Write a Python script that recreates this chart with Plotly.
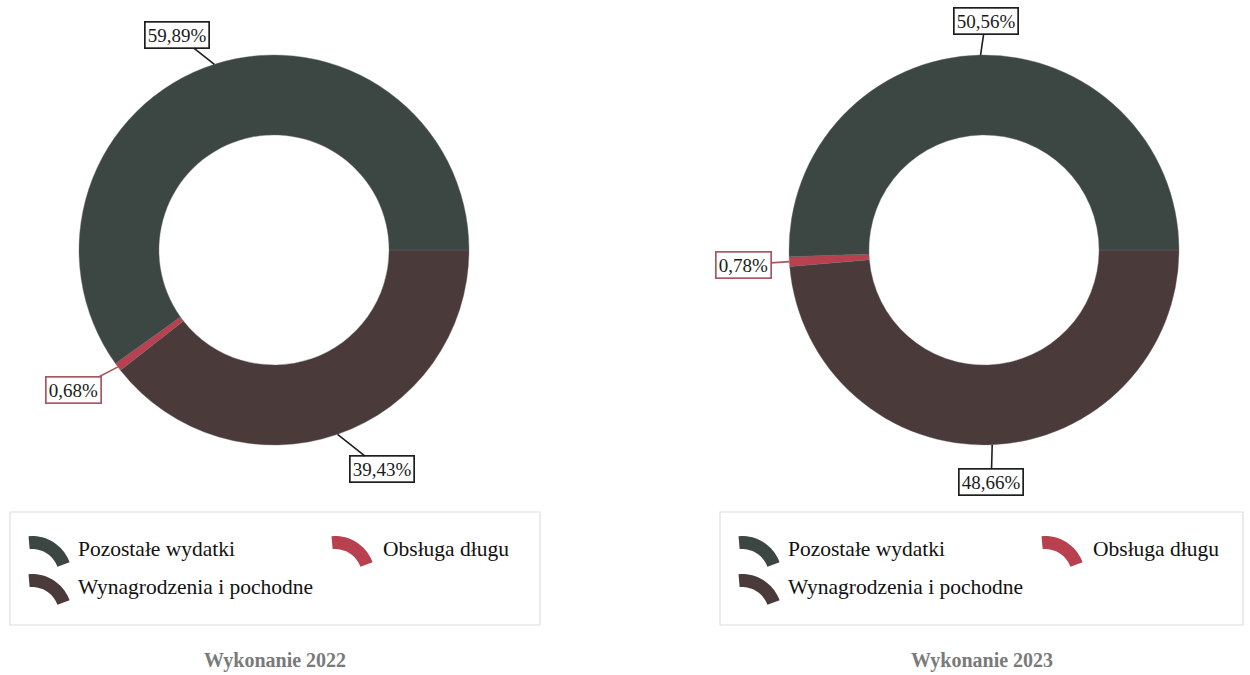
import numpy as np
import plotly.graph_objects as go

# ---- data ----
categories = ["Pozostałe wydatki", "Obsługa długu", "Wynagrodzenia i pochodne"]
shares_2022 = [59.89, 0.68, 39.43]
shares_2023 = [50.56, 0.78, 48.66]
titles = ["Wykonanie 2022", "Wykonanie 2023"]

# ---- styling ----
W, H = 1250, 675
slice_colors = ["#3c4743", "#b8404f", "#4a3a3a"]
label_borders = ["#1e1e1e", "#a8585f", "#1e1e1e"]
FONT = "Liberation Serif, Times New Roman, serif"
HOLE = 0.59

# pixel geometry of each donut: center x, center y, outer radius
donuts = [dict(cx=274, cy=250, r=195), dict(cx=984, cy=250, r=195)]
# label box offsets (pixels) from the slice's outer mid-point
label_offsets = [
    [(-37, -29), (-44, 23), (44, 35)],
    [(5, -34), (-46, 3), (-1, 37)],
]
# legend frames (pixels): left, top, right, bottom
legend_frames = [(10, 512, 540, 625), (720, 512, 1243, 625)]
# legend entry positions relative to frame left/top: (icon x, text x, row y)
legend_slots = [(20, 66, 37), (323, 371, 37), (20, 66, 75)]


def px(x):
    return x / W


def py(y):
    return 1 - y / H


fig = go.Figure()
annotations = []
shapes = []

for k, (vals, d) in enumerate(zip([shares_2022, shares_2023], donuts)):
    cx, cy, r = d["cx"], d["cy"], d["r"]
    # slices run counter-clockwise from 3 o'clock in category order; plotly
    # draws that as the reversed order going clockwise from 3 o'clock
    fig.add_trace(go.Pie(
        labels=categories[::-1],
        values=vals[::-1],
        hole=HOLE,
        sort=False,
        direction="clockwise",
        rotation=90,
        textinfo="none",
        marker=dict(colors=slice_colors[::-1], line=dict(color="#6a6a6a", width=0.4)),
        domain=dict(x=[px(cx - r), px(cx + r)], y=[py(cy + r), py(cy - r)]),
        showlegend=False,
        hovertemplate="%{label}: %{value:.2f}%<extra></extra>",
    ))

    # value labels with leader lines, anchored at each slice's outer mid-angle
    total = sum(vals)
    cum = np.cumsum([0] + vals[:-1])
    for i, v in enumerate(vals):
        mid = np.deg2rad(360 * (cum[i] + v / 2) / total)
        ax_px = cx + r * np.cos(mid)
        ay_px = cy - r * np.sin(mid)
        ox, oy = label_offsets[k][i]
        annotations.append(dict(
            x=px(ax_px), y=py(ay_px), xref="paper", yref="paper",
            ax=ox, ay=oy,
            text=f"{v:.2f}".replace(".", ",") + "%",
            showarrow=True, arrowhead=0, arrowwidth=1.6,
            arrowcolor=label_borders[i],
            font=dict(family=FONT, size=19, color="#1a1a1a"),
            bgcolor="white", bordercolor=label_borders[i], borderwidth=1.7,
            borderpad=2,
        ))

    # legend frame
    fl, ft, fr, fb = legend_frames[k]
    shapes.append(dict(
        type="rect", xref="paper", yref="paper",
        x0=px(fl), x1=px(fr), y0=py(fb), y1=py(ft),
        line=dict(color="#dedede", width=1.2), fillcolor="white", layer="below",
    ))

    # legend entries: arc icon + label
    for i, name in enumerate(categories):
        ix, tx, ry = legend_slots[i]
        icx, icy = fl + ix + 2, ft + ry + 27
        a = np.deg2rad(np.linspace(95, 20, 20))
        ro, ri = 40, 27
        outer = [(icx + ro * np.cos(t), icy - ro * np.sin(t)) for t in a]
        inner = [(icx + ri * np.cos(t), icy - ri * np.sin(t)) for t in a[::-1]]
        pts = outer + inner
        path = "M " + " L ".join(f"{px(x):.5f},{py(y):.5f}" for x, y in pts) + " Z"
        shapes.append(dict(
            type="path", xref="paper", yref="paper", path=path,
            fillcolor=slice_colors[i], line=dict(width=0),
        ))
        annotations.append(dict(
            x=px(fl + tx), y=py(ft + ry), xref="paper", yref="paper",
            xanchor="left", yanchor="middle", showarrow=False,
            text=name, font=dict(family=FONT, size=21.5, color="#111111"),
        ))

    # chart caption below the legend
    annotations.append(dict(
        x=px((fl + fr) / 2), y=py(660), xref="paper", yref="paper",
        xanchor="center", yanchor="middle", showarrow=False,
        text=f"<b>{titles[k]}</b>",
        font=dict(family=FONT, size=20, color="#7a7a7a"),
    ))

fig.update_layout(
    width=W, height=H, autosize=False,
    margin=dict(l=0, r=0, t=0, b=0),
    paper_bgcolor="white", plot_bgcolor="white",
    annotations=annotations, shapes=shapes,
)

fig.write_html("out.html")
